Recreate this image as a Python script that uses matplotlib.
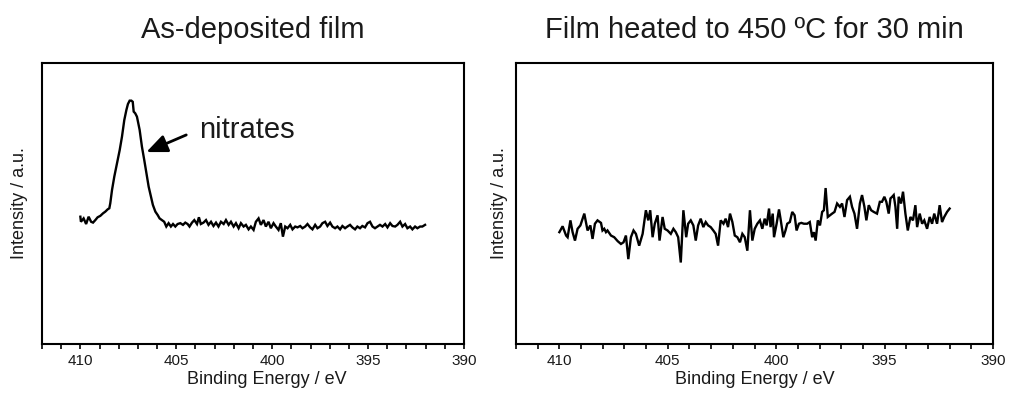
import numpy as np
import matplotlib
matplotlib.use("Agg")
import matplotlib.pyplot as plt
from matplotlib.ticker import MultipleLocator

plt.rcParams['font.family'] = ['Liberation Sans', 'DejaVu Sans']

# ---------------- data ----------------
titles = ["As-deposited film", "Film heated to 450 \u00baC for 30 min"]
xlabel = "Binding Energy / eV"
ylabel = "Intensity / a.u."
annot_text = "nitrates"

# As-deposited film: binding energy (eV) and intensity (a.u.)
e_asdep = [410.00, 409.97, 409.83, 409.70, 409.57, 409.44, 409.34, 409.22, 409.10, 408.96,
           408.82, 408.70, 408.58, 408.49, 408.44, 408.35, 408.23, 408.09, 407.95, 407.83,
           407.71, 407.60, 407.52, 407.43, 407.34, 407.27, 407.22, 407.14, 407.05, 406.91,
           406.79, 406.67, 406.53, 406.44, 406.32, 406.22, 406.09, 405.97, 405.87, 405.75,
           405.63, 405.52, 405.40, 405.28, 405.17, 405.05, 404.93, 404.79, 404.65, 404.53,
           404.41, 404.31, 404.18, 404.06, 403.92, 403.82, 403.72, 403.58, 403.45, 403.32,
           403.19, 403.06, 402.93, 402.80, 402.67, 402.53, 402.41, 402.27, 402.15, 402.01,
           401.89, 401.75, 401.63, 401.49, 401.37, 401.23, 401.11, 400.97, 400.85, 400.71,
           400.59, 400.45, 400.33, 400.19, 400.07, 399.93, 399.81, 399.67, 399.55, 399.44,
           399.32, 399.20, 399.06, 398.94, 398.80, 398.68, 398.54, 398.42, 398.28, 398.16,
           398.02, 397.90, 397.76, 397.64, 397.50, 397.38, 397.24, 397.12, 396.98, 396.86,
           396.72, 396.60, 396.46, 396.34, 396.20, 396.08, 395.94, 395.82, 395.68, 395.56,
           395.42, 395.30, 395.16, 395.03, 394.90, 394.77, 394.64, 394.51, 394.38, 394.25,
           394.11, 393.99, 393.85, 393.73, 393.59, 393.47, 393.33, 393.21, 393.07, 392.95,
           392.81, 392.69, 392.55, 392.43, 392.29, 392.17, 392.03]
i_asdep = [45.3, 43.5, 44.7, 42.7, 45.3, 43.5, 43.2, 44.1, 45.1, 45.6,
           46.5, 47.1, 47.9, 48.3, 50.1, 54.8, 59.6, 64.3, 69.0, 73.8,
           79.7, 83.3, 85.4, 86.6, 86.6, 86.2, 82.7, 82.1, 80.9, 76.2,
           70.2, 65.5, 59.6, 56.0, 52.5, 49.5, 47.1, 45.9, 44.7, 44.1,
           43.5, 41.8, 43.0, 41.8, 42.7, 41.8, 42.7, 43.0, 42.4, 43.2,
           42.7, 41.8, 43.2, 44.1, 42.7, 45.1, 42.7, 43.2, 44.1, 42.4,
           43.5, 42.0, 43.2, 41.8, 43.5, 42.7, 44.1, 42.4, 43.5, 41.8,
           43.0, 41.2, 43.0, 41.8, 42.4, 40.8, 41.8, 40.6, 43.5, 44.7,
           42.4, 44.1, 41.8, 43.5, 41.2, 43.0, 41.8, 40.6, 43.0, 38.2,
           41.8, 41.2, 42.4, 40.8, 41.8, 41.5, 42.0, 41.2, 41.8, 42.7,
           41.5, 40.8, 42.4, 41.2, 41.8, 43.0, 43.5, 42.0, 43.2, 41.8,
           41.2, 41.8, 40.8, 42.0, 41.2, 41.8, 42.4, 41.5, 40.8, 41.8,
           41.2, 42.0, 41.5, 43.0, 43.5, 41.8, 41.2, 41.8, 42.4, 41.8,
           42.7, 41.5, 43.0, 42.0, 41.8, 42.4, 43.5, 41.8, 42.7, 41.2,
           41.8, 40.8, 41.8, 41.2, 41.8, 41.8, 42.4]

# Film heated to 450 C: binding energy (eV) and intensity (a.u.)
e_heated = [410.00, 409.85, 409.69, 409.62, 409.49, 409.39, 409.28, 409.16, 409.03, 408.85,
            408.70, 408.57, 408.47, 408.36, 408.24, 408.08, 408.01, 407.93, 407.85, 407.78,
            407.62, 407.47, 407.31, 407.16, 407.04, 406.93, 406.82, 406.70, 406.58, 406.47,
            406.32, 406.16, 406.01, 405.90, 405.81, 405.70, 405.60, 405.47, 405.38, 405.24,
            405.14, 405.01, 404.86, 404.74, 404.63, 404.52, 404.40, 404.28, 404.15, 404.06,
            403.94, 403.82, 403.71, 403.60, 403.48, 403.36, 403.25, 403.14, 403.02, 402.90,
            402.79, 402.68, 402.56, 402.43, 402.33, 402.22, 402.13, 402.02, 401.91, 401.79,
            401.67, 401.56, 401.45, 401.33, 401.21, 401.10, 400.99, 400.87, 400.75, 400.64,
            400.53, 400.44, 400.33, 400.26, 400.16, 400.10, 399.98, 399.87, 399.80, 399.67,
            399.57, 399.49, 399.37, 399.26, 399.15, 399.06, 398.95, 398.84, 398.72, 398.57,
            398.45, 398.34, 398.26, 398.18, 398.08, 397.98, 397.88, 397.80, 397.72, 397.62,
            397.52, 397.42, 397.31, 397.19, 397.06, 396.96, 396.85, 396.73, 396.60, 396.50,
            396.39, 396.27, 396.14, 396.04, 395.93, 395.84, 395.73, 395.62, 395.50, 395.35,
            395.22, 395.12, 395.01, 394.92, 394.81, 394.73, 394.65, 394.58, 394.50, 394.42,
            394.35, 394.24, 394.15, 394.04, 393.93, 393.81, 393.69, 393.58, 393.50, 393.38,
            393.27, 393.17, 393.04, 392.92, 392.81, 392.71, 392.58, 392.46, 392.35, 392.25,
            392.12, 392.00]
i_heated = [39.8, 41.9, 38.6, 38.0, 44.0, 39.8, 36.8, 41.0, 42.2, 46.4,
            40.4, 42.2, 37.4, 42.8, 44.0, 43.1, 40.4, 41.0, 39.8, 40.4,
            38.6, 38.0, 36.6, 35.6, 36.2, 38.6, 30.2, 38.0, 40.4, 39.2,
            35.0, 39.2, 47.6, 44.0, 47.6, 38.0, 42.8, 45.8, 36.8, 45.2,
            41.0, 40.4, 39.2, 41.0, 39.8, 38.0, 29.0, 47.6, 38.0, 42.8,
            44.0, 42.2, 36.8, 42.2, 44.6, 41.6, 43.4, 42.2, 41.6, 40.4,
            39.2, 35.0, 44.0, 42.8, 44.6, 41.6, 46.4, 43.4, 38.6, 38.0,
            36.2, 39.2, 38.0, 33.2, 47.6, 36.8, 41.0, 42.8, 44.0, 41.0,
            44.6, 42.2, 48.2, 41.6, 46.4, 38.0, 42.8, 47.9, 44.6, 38.0,
            40.4, 42.8, 43.4, 47.0, 45.8, 40.4, 42.8, 43.1, 42.8, 42.8,
            43.4, 38.0, 39.8, 36.8, 44.0, 42.2, 47.0, 47.6, 55.5, 45.2,
            45.8, 46.4, 47.0, 50.0, 48.8, 50.0, 45.2, 51.2, 52.4, 48.8,
            46.4, 41.0, 50.0, 53.0, 48.8, 44.0, 49.4, 47.6, 47.0, 46.4,
            50.6, 50.6, 52.4, 50.6, 46.4, 51.8, 52.4, 53.0, 48.8, 41.0,
            52.4, 50.0, 54.2, 46.4, 40.4, 45.2, 44.0, 49.4, 41.6, 46.4,
            42.8, 44.0, 41.0, 45.2, 42.8, 46.4, 42.8, 49.4, 43.4, 45.2,
            47.0, 48.2]

xlim = (412, 390)
ylim = (0, 100)

# ---------------- figure ----------------
W, H = 1009, 393
fig = plt.figure(figsize=(W / 100, H / 100), dpi=100)

def frac(x0, x1, ytop, ybot):
    return [x0 / W, 1 - ybot / H, (x1 - x0) / W, (ybot - ytop) / H]

ax1 = fig.add_axes(frac(42, 464, 63, 344))
ax2 = fig.add_axes(frac(516, 993, 63, 344))

text_col = '#1a1a1a'

for ax, e, inten, title, lp in [(ax1, e_asdep, i_asdep, titles[0], 10),
                                (ax2, e_heated, i_heated, titles[1], 6)]:
    ax.plot(e, inten, color='black', lw=1.7, solid_joinstyle='miter')
    ax.set_xlim(*xlim)
    ax.set_ylim(*ylim)
    ax.set_yticks([])
    ax.xaxis.set_major_locator(MultipleLocator(5))
    ax.xaxis.set_minor_locator(MultipleLocator(1))
    ax.tick_params(axis='x', which='both', direction='out', length=3.5, width=1.2,
                   color='black', top=False)
    ax.tick_params(axis='x', which='major', labelsize=11, pad=4, labelcolor=text_col)
    for s in ax.spines.values():
        s.set_linewidth(1.5)
        s.set_color('black')
    ax.set_xlabel(xlabel, fontsize=13, color=text_col, labelpad=2)
    ax.set_ylabel(ylabel, fontsize=13, color=text_col, labelpad=lp)
    ax.set_title(title, fontsize=21, color=text_col, pad=18)

ax1.xaxis.set_label_coords(0.533, -0.095)
ax2.xaxis.set_label_coords(0.5, -0.095)

ax1.annotate('', xy=(406.56, 68.3), xytext=(404.48, 74.4),
             arrowprops=dict(arrowstyle='-|>,head_length=0.7,head_width=0.3',
                             color='black', lw=2, mutation_scale=18,
                             shrinkA=0, shrinkB=0))
ax1.text(403.80, 76.2, annot_text, fontsize=21, color=text_col, ha='left', va='center')

fig.savefig('out.png', dpi=100)
